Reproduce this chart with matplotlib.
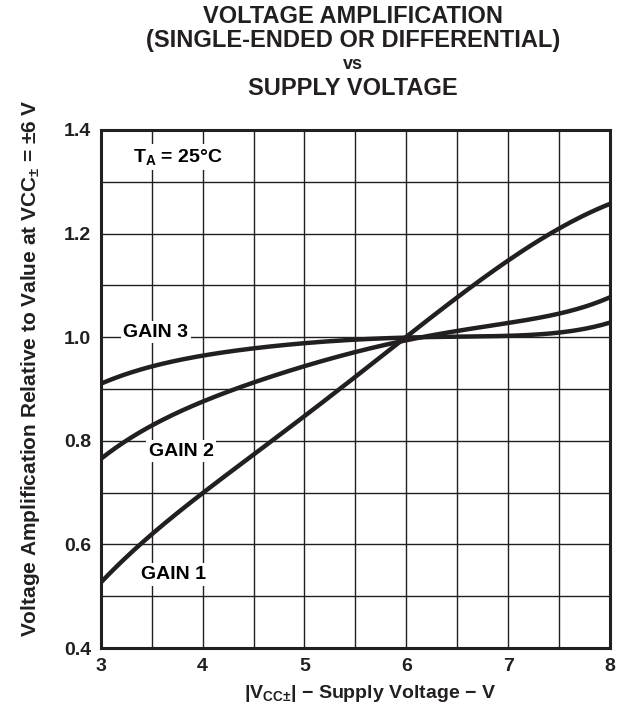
import numpy as np
import matplotlib
matplotlib.use("Agg")
import matplotlib.pyplot as plt

plt.rcParams['font.family'] = ['Liberation Sans', 'DejaVu Sans']
plt.rcParams['font.weight'] = 'bold'
plt.rcParams['axes.labelweight'] = 'bold'
plt.rcParams['mathtext.fontset'] = 'custom'
plt.rcParams['mathtext.rm'] = 'Liberation Sans:bold'
plt.rcParams['mathtext.it'] = 'Liberation Sans:bold'
plt.rcParams['mathtext.bf'] = 'Liberation Sans:bold'

# supply voltage (V)
vcc = [3.0, 3.5, 4.0, 4.5, 5.0, 5.5, 6.0, 6.5, 7.0, 7.5, 8.0]
# relative amplification
gain1 = [0.527, 0.618, 0.700, 0.774, 0.849, 0.921, 1.000, 1.078, 1.150, 1.207, 1.258]
gain2 = [0.766, 0.826, 0.879, 0.914, 0.942, 0.967, 1.000, 1.011, 1.026, 1.046, 1.077]
gain3 = [0.910, 0.944, 0.964, 0.978, 0.989, 0.995, 1.000, 1.000, 1.003, 1.009, 1.028]

fig = plt.figure(figsize=(6.34, 7.06), dpi=100)
ax = fig.add_axes([0.159, 0.082, 0.803, 0.734])

# smooth through the read points
xs = np.linspace(3, 8, 200)
for g in (gain1, gain2, gain3):
    c = np.polyfit(vcc, g, 5)
    ax.plot(xs, np.polyval(c, xs), color='#231f20', lw=3.2, zorder=3)

ax.set_xlim(3, 8)
ax.set_ylim(0.4, 1.4)
ax.set_xticks([3, 4, 5, 6, 7, 8])
ax.set_yticks([0.4, 0.6, 0.8, 1.0, 1.2, 1.4])
ax.set_yticklabels(['0.4', '0.6', '0.8', '1.0', '1.2', '1.4'])
ax.set_xticks(np.arange(3, 8.01, 0.5), minor=True)
ax.set_yticks(np.arange(0.4, 1.401, 0.1), minor=True)
ax.grid(which='both', color='#231f20', lw=1.0)
ax.tick_params(which='both', length=0, labelsize=14, pad=7, colors='#231f20')
for s in ax.spines.values():
    s.set_linewidth(2.2)
    s.set_color('#231f20')

box = dict(facecolor='white', edgecolor='none', pad=2)
fs = 14
ax.text(3.54, 1.01, 'GAIN 3', ha='center', va='center', fontsize=fs, bbox=box, zorder=4)
ax.text(3.79, 0.78, 'GAIN 2', ha='center', va='center', fontsize=fs, bbox=box, zorder=4)
ax.text(3.71, 0.542, 'GAIN 1', ha='center', va='center', fontsize=fs, bbox=box, zorder=4)
ax.text(3.76, 1.348, r'T$_{\mathrm{A}}$ = 25°C', ha='center', va='center', fontsize=fs,
        bbox=box, zorder=4)

ax.set_xlabel(r'|V$_{\mathrm{CC±}}$| − Supply Voltage − V', fontsize=14, color='#231f20')
ax.set_ylabel(r'Voltage Amplification Relative to Value at VCC$_{±}$ = ±6 V',
              fontsize=15, color='#231f20')
ax.xaxis.set_label_coords(0.528, -0.068)
ax.yaxis.set_label_coords(-0.116, 0.54)

tx = 0.557
fig.text(tx, 0.976, 'VOLTAGE AMPLIFICATION', ha='center', va='center', fontsize=17, color='#231f20')
fig.text(tx, 0.942, '(SINGLE-ENDED OR DIFFERENTIAL)', ha='center', va='center', fontsize=17, color='#231f20')
fig.text(tx, 0.909, 'vs', ha='center', va='center', fontsize=13, color='#231f20')
fig.text(tx, 0.875, 'SUPPLY VOLTAGE', ha='center', va='center', fontsize=17, color='#231f20')

fig.savefig('out.png', dpi=100)
